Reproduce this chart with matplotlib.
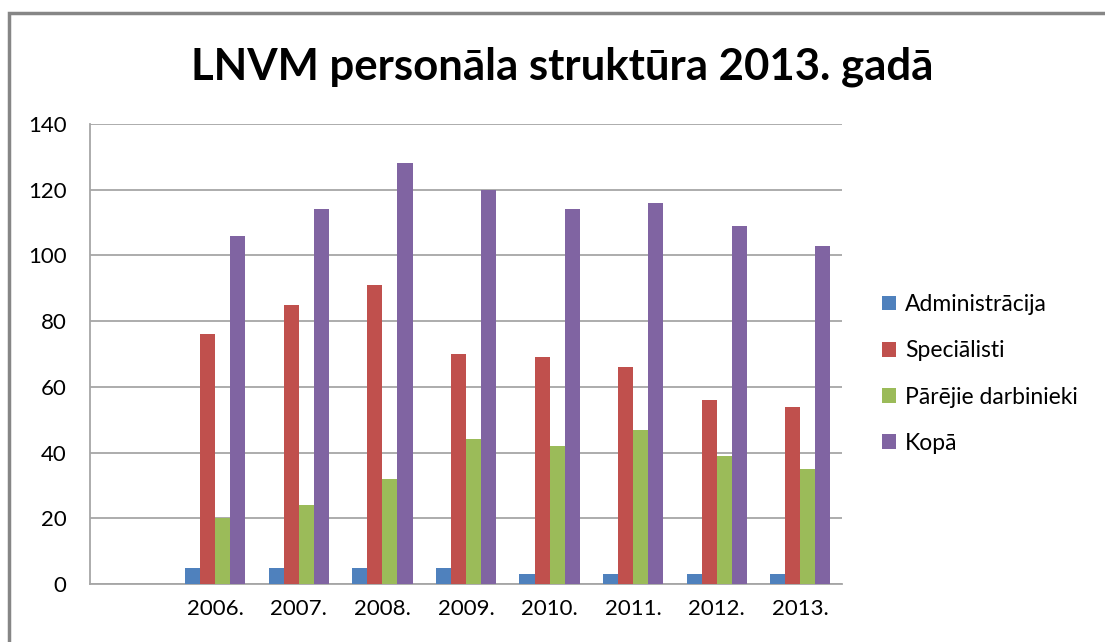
import numpy as np
import matplotlib.pyplot as plt
from matplotlib.patches import Rectangle

plt.rcParams['font.family'] = ['Lato', 'DejaVu Sans']

years = ['', '2006.', '2007.', '2008.', '2009.', '2010.', '2011.', '2012.', '2013.']
series_names = ['Administrācija', 'Speciālisti', 'Pārējie darbinieki', 'Kopā']
admin = [None, 5, 5, 5, 5, 3, 3, 3, 3]
specialisti = [None, 76, 85, 91, 70, 69, 66, 56, 54]
parejie = [None, 20, 24, 32, 44, 42, 47, 39, 35]
kopa = [None, 106, 114, 128, 120, 114, 116, 109, 103]
colors = ['#4f81bd', '#c0504d', '#9bbb59', '#8064a2']

W, H = 1105, 642
fig = plt.figure(figsize=(W / 100, H / 100), dpi=100)

# outer chart frame (cut off at right and bottom)
fig.patches.append(Rectangle((9 / W, -0.1), 1.2, (H - 13) / H + 0.1, transform=fig.transFigure,
                             fill=False, edgecolor='#868686', linewidth=2.5))

ax = fig.add_axes([90 / W, (H - 584) / H, (842 - 90) / W, (584 - 124) / H])

x = np.arange(len(years))
bw = 0.18
all_series = [admin, specialisti, parejie, kopa]
for i, (vals, name, c) in enumerate(zip(all_series, series_names, colors)):
    v = np.array([np.nan if a is None else a for a in vals], dtype=float)
    ax.bar(x + (i - 1.5) * bw, v, bw, color=c, label=name, zorder=3)

ax.set_xlim(-0.5, len(years) - 0.5)
ax.set_ylim(0, 140)
ax.set_yticks(range(0, 141, 20))
ax.set_xticks(x)
ax.set_xticklabels(years)
ax.tick_params(length=0, labelsize=16, colors='black', pad=11)
ax.tick_params(axis='y', pad=17)
ax.yaxis.grid(True, color='#a6a6a6', linewidth=1.3, zorder=0)
for s in ['top', 'right']:
    ax.spines[s].set_visible(False)
for s in ['left', 'bottom']:
    ax.spines[s].set_color('#a6a6a6')
    ax.spines[s].set_linewidth(1.3)

fig.text(562 / W, (H - 67) / H, 'LNVM personāla struktūra 2013. gadā',
         ha='center', va='center', fontsize=31.5, fontweight='bold')

fig.legend(loc='upper left', bbox_to_anchor=(873 / W, (H - 285) / H), frameon=False,
           fontsize=16.5, handlelength=0.6, handleheight=0.6, handletextpad=0.4,
           labelspacing=1.1, borderaxespad=0)

fig.savefig('out.png', dpi=100)
